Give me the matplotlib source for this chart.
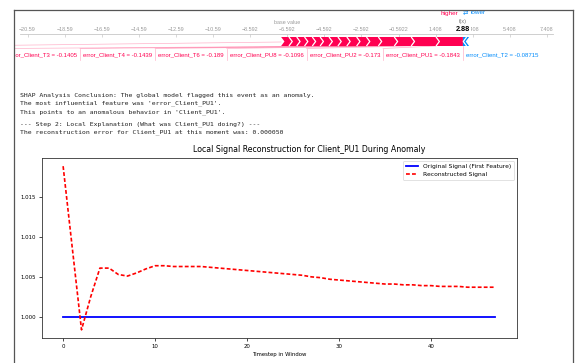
import matplotlib
matplotlib.use("Agg")
import matplotlib.pyplot as plt
from matplotlib.patches import Polygon
from matplotlib.lines import Line2D
from matplotlib.transforms import offset_copy

# ---------------- data ----------------
base_value = -6.592
fx_text = "2.88"
red_shap = [1.45, 1.34, 0.91, 0.86, 0.64, 0.53, 0.53, 0.48, 0.48, 0.48,
            0.42, 0.42, 0.42, 0.42, 0.42]
red_labels = ["error_Client_PU1 = -0.1843", "error_Client_PU2 = -0.173",
              "error_Client_PU8 = -0.1096", "error_Client_T6 = -0.189",
              "error_Client_T4 = -0.1439", "error_Client_T3 = -0.1405"]
blue_shap = [0.20, 0.13]
blue_labels = ["error_Client_T2 = -0.08715"]
force_ticks = [-20.59, -18.59, -16.59, -14.59, -12.59, -10.59, -8.592, -6.592,
               -4.592, -2.592, -0.5922, 1.408, 3.408, 5.408, 7.408]
force_tick_labels = ["\u221220.59", "\u221218.59", "\u221216.59", "\u221214.59",
                     "\u221212.59", "\u221210.59", "\u22128.592", "\u22126.592",
                     "\u22124.592", "\u22122.592", "\u22120.5922", "1.408",
                     "3.408", "5.408", "7.408"]

console_lines = [
    "SHAP Analysis Conclusion: The global model flagged this event as an anomaly.",
    "The most influential feature was 'error_Client_PU1'.",
    "This points to an anomalous behavior in 'Client_PU1'.",
    "--- Step 2: Local Explanation (What was Client_PU1 doing?) ---",
    "The reconstruction error for Client_PU1 at this moment was: 0.000050",
]

timesteps = list(range(48))
original = [1.000] * 48
reconstructed = [1.0189, 1.0086, 0.99835, 1.0025, 1.0061, 1.0061, 1.0053, 1.0051,
                 1.0055, 1.0060, 1.0064, 1.0064, 1.0063, 1.0063, 1.0063, 1.0063,
                 1.0062, 1.0061, 1.0060, 1.0059, 1.0058, 1.0057, 1.0056, 1.0055,
                 1.0054, 1.0053, 1.0052, 1.0050, 1.0049, 1.0047, 1.0046, 1.0045,
                 1.0044, 1.0043, 1.0042, 1.0041, 1.0041, 1.0040, 1.0040, 1.0039,
                 1.0039, 1.0038, 1.0038, 1.0038, 1.0037, 1.0037, 1.0037, 1.0037]

# ---------------- figure ----------------
W, H = 577, 363
RED = "#ff0051"
BLUE = "#008bfb"
fig = plt.figure(figsize=(W / 100, H / 100), dpi=100)
fig.patch.set_facecolor("white")


def fxp(x):
    return x / W


def fyp(y):
    return 1 - y / H


# screenshot frame
fig.add_artist(Line2D([fxp(14), fxp(14)], [fyp(10), 0], color="#555555", lw=0.9))
fig.add_artist(Line2D([fxp(14), fxp(573)], [fyp(10), fyp(10)], color="#555555", lw=0.9))
fig.add_artist(Line2D([fxp(573), fxp(573)], [fyp(10), 0], color="#555555", lw=0.9))

# ---------------- force plot ----------------
axf = fig.add_axes([fxp(14), fyp(62), (573 - 14) / W, (62 - 10) / H])
axf.set_xlim(-21.323, 8.812)
axf.set_ylim(62, 10)
axf.patch.set_visible(False)
for s in ["left", "right", "bottom"]:
    axf.spines[s].set_visible(False)
axf.spines["top"].set_position(("data", 34))
axf.spines["top"].set_bounds(-21.0, 7.75)
axf.spines["top"].set_color("#c8c8c8")
axf.spines["top"].set_linewidth(0.6)
axf.xaxis.set_ticks_position("top")
axf.set_xticks(force_ticks)
axf.set_xticklabels(force_tick_labels)
axf.tick_params(axis="x", direction="in", length=2, width=0.5, color="#c8c8c8",
                labelsize=3.9, labelcolor="#9a9a9a", pad=1.6)
axf.set_yticks([])
for lab in axf.get_xticklabels():
    lab.set_fontfamily("Liberation Sans")

fx = base_value + sum(red_shap) - sum(blue_shap)
top, bot, mid = 37.0, 46.0, 41.5
d = 0.18

# red segments (pointing right), largest nearest f(x)
right = fx
red_bounds = []
for i, w in enumerate(red_shap):
    left = right - w
    tip = 0 if i == 0 else d
    pts = [(left, top), (right, top), (right + tip, mid), (right, bot),
           (left, bot), (left + d, mid)]
    axf.add_patch(Polygon(pts, closed=True, facecolor=RED, edgecolor="none", zorder=3))
    if i > 0:
        axf.plot([right, right + d, right], [top, mid, bot], color="white", lw=0.9,
                 zorder=4, solid_capstyle="butt")
    red_bounds.append((left, right))
    right = left

# blue segments (pointing left)
left = fx
blue_bounds = []
for j, w in enumerate(blue_shap):
    right = left + w
    tip = 0 if j == 0 else d
    pts = [(left, top), (right, top), (right - d, mid), (right, bot),
           (left, bot), (left - tip, mid)]
    axf.add_patch(Polygon(pts, closed=True, facecolor=BLUE, edgecolor="none", zorder=3))
    if j > 0:
        axf.plot([left, left - d, left], [top, mid, bot], color="white", lw=0.9,
                 zorder=4, solid_capstyle="butt")
    blue_bounds.append((left, right))
    left = right

# labels below the bar
renderer = fig.canvas.get_renderer()
inv = axf.transData.inverted()
px_unit = (axf.transData.transform((1, 0))[0] - axf.transData.transform((0, 0))[0])
pad = 3.0 / px_unit
lab_y, lab_top, lab_bot = 54.5, 48.5, 60.0
label_fs = 4.3

axf.plot([fx, fx], [bot, lab_bot], color=RED, alpha=0.3, lw=0.5, zorder=2)
cur = fx
for i, txt in enumerate(red_labels):
    t = axf.text(cur - pad, lab_y, txt, ha="right", va="center", color=RED,
                 fontsize=label_fs, family="Liberation Sans", clip_on=True)
    bb = t.get_window_extent(renderer)
    lx = inv.transform((bb.x0, bb.y0))[0]
    sep = lx - pad
    axf.plot([sep, sep], [lab_top, lab_bot], color=RED, alpha=0.3, lw=0.5, zorder=2)
    axf.plot([red_bounds[i][0], sep], [bot, lab_top], color=RED, alpha=0.3, lw=0.5,
             zorder=2)
    cur = sep
axf.plot([red_bounds[-1][0], cur - 14.0], [bot - 4, lab_top], color=RED, alpha=0.3,
         lw=0.5, zorder=2)

cur = fx
for j, txt in enumerate(blue_labels):
    t = axf.text(cur + pad, lab_y, txt, ha="left", va="center", color=BLUE,
                 fontsize=label_fs, family="Liberation Sans", clip_on=True)
    bb = t.get_window_extent(renderer)
    rx = inv.transform((bb.x1, bb.y0))[0]
    cur = rx + pad

# texts above
axf.text(base_value, 22, "base value", ha="center", va="center", color="#9a9a9a",
         fontsize=3.9, family="Liberation Sans", clip_on=False)
axf.text(fx, 22, "f(x)", ha="center", va="center", color="#777777",
         fontsize=3.9, family="Liberation Sans", clip_on=False)
axf.text(fx, 29.5, fx_text, ha="center", va="center", color="black",
         fontsize=5.2, fontweight="bold", family="Liberation Sans", zorder=6,
         bbox=dict(facecolor="white", edgecolor="none", pad=0.6), clip_on=False)
axf.text(fx, 13, "higher", ha="right", va="center", color=RED, fontsize=4.6,
         family="Liberation Sans", clip_on=False,
         transform=offset_copy(axf.transData, fig=fig, x=-5, y=0, units="dots"))
axf.text(fx, 13, "\u21c4", ha="center", va="center", color=BLUE, fontsize=4.6,
         family="DejaVu Sans", clip_on=False,
         transform=offset_copy(axf.transData, fig=fig, x=2, y=0, units="dots"))
axf.text(fx, 13, "lower", ha="left", va="center", color=BLUE, fontsize=4.6,
         family="Liberation Sans", clip_on=False,
         transform=offset_copy(axf.transData, fig=fig, x=8, y=0, units="dots"))

# ---------------- console text ----------------
line_y = [95, 103.5, 112, 124, 132]
for y, txt in zip(line_y, console_lines):
    fig.text(fxp(20), fyp(y), txt, ha="left", va="center", family="DejaVu Sans Mono",
             fontsize=4.65, color="#222222")

# ---------------- line chart ----------------
ax = fig.add_axes([fxp(41.5), fyp(338), 475.5 / W, 180 / H])
ax.plot(timesteps, original, color="blue", lw=1.3, label="Original Signal (First Feature)")
ax.plot(timesteps, reconstructed, color="red", ls="--", lw=1.2, dashes=(2.3, 1.3),
        label="Reconstructed Signal")
title = ax.set_title("Local Signal Reconstruction for Client_PU1 During Anomaly",
                     fontsize=5.7, pad=4)
title.set_x((309 - 41.5) / 475.5)
ax.set_xlabel("Timestep in Window", fontsize=3.9, labelpad=2)
ax.tick_params(labelsize=3.9, length=2.2, width=0.5, pad=2)
ax.ticklabel_format(axis="y", useOffset=False)
ax.set_yticks([1.000, 1.005, 1.010, 1.015])
ax.set_yticklabels(["1.000", "1.005", "1.010", "1.015"])
for s in ax.spines.values():
    s.set_linewidth(0.6)
    s.set_color("#333333")
leg = ax.legend(loc="upper right", fontsize=4.3, handlelength=2.0, borderpad=0.5,
                labelspacing=0.5)
leg.get_frame().set_linewidth(0.5)

fig.savefig("out.png", dpi=100, facecolor="white")
